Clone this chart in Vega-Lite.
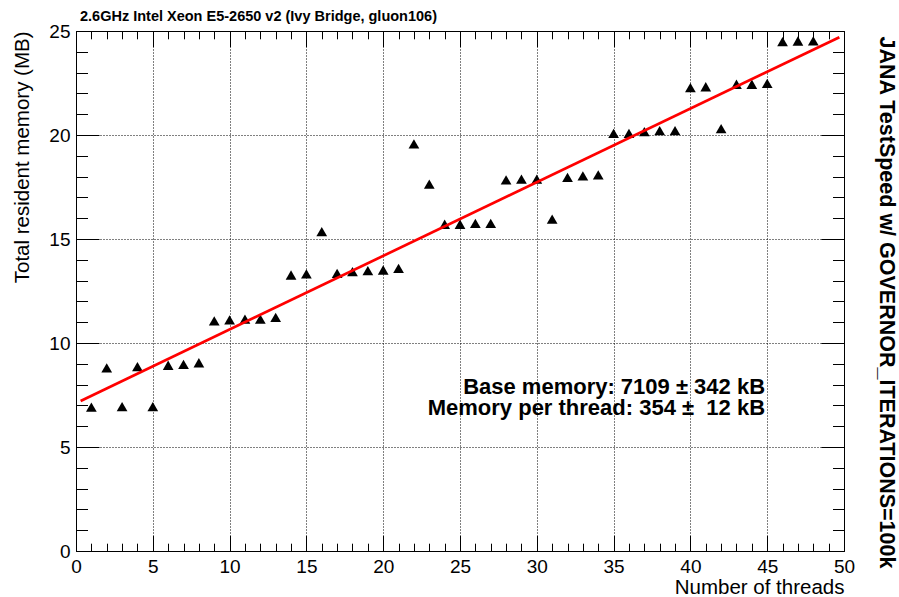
{
  "$schema": "https://vega.github.io/schema/vega-lite/v6.json",
  "width": 768,
  "height": 520,
  "autosize": "none",
  "padding": {"left": 76, "top": 31, "right": 55, "bottom": 46},
  "background": "white",
  "title": {
    "text": "2.6GHz Intel Xeon E5-2650 v2 (Ivy Bridge, gluon106)",
    "anchor": "start",
    "frame": "group",
    "font": "Liberation Sans",
    "fontSize": 14.5,
    "fontWeight": "bold",
    "color": "black",
    "baseline": "bottom",
    "offset": -16,
    "dx": 4
  },
  "config": {
    "view": {"stroke": null},
    "font": "Liberation Sans",
    "axis": {
      "labelFont": "Liberation Sans",
      "titleFont": "Liberation Sans",
      "labelColor": "black",
      "titleColor": "black",
      "tickColor": "black",
      "domainColor": "black",
      "tickWidth": 1,
      "domainWidth": 1,
      "gridColor": "black",
      "gridDash": [1, 2],
      "gridWidth": 1,
      "gridOpacity": 1
    }
  },
  "layer": [
    {
      "data": {
        "values": [
          {"threads": 1, "mem": 6.92}, {"threads": 2, "mem": 8.80}, {"threads": 3, "mem": 6.94},
          {"threads": 4, "mem": 8.86}, {"threads": 5, "mem": 6.94}, {"threads": 6, "mem": 8.93},
          {"threads": 7, "mem": 8.97}, {"threads": 8, "mem": 9.05}, {"threads": 9, "mem": 11.06},
          {"threads": 10, "mem": 11.11}, {"threads": 11, "mem": 11.15}, {"threads": 12, "mem": 11.15},
          {"threads": 13, "mem": 11.23}, {"threads": 14, "mem": 13.27}, {"threads": 15, "mem": 13.32},
          {"threads": 16, "mem": 15.35}, {"threads": 17, "mem": 13.35}, {"threads": 18, "mem": 13.43},
          {"threads": 19, "mem": 13.48}, {"threads": 20, "mem": 13.51}, {"threads": 21, "mem": 13.59},
          {"threads": 22, "mem": 19.57}, {"threads": 23, "mem": 17.64}, {"threads": 24, "mem": 15.71},
          {"threads": 25, "mem": 15.71}, {"threads": 26, "mem": 15.75}, {"threads": 27, "mem": 15.75},
          {"threads": 28, "mem": 17.84}, {"threads": 29, "mem": 17.88}, {"threads": 30, "mem": 17.88},
          {"threads": 31, "mem": 15.96}, {"threads": 32, "mem": 17.96}, {"threads": 33, "mem": 18.03},
          {"threads": 34, "mem": 18.08}, {"threads": 35, "mem": 20.08}, {"threads": 36, "mem": 20.08},
          {"threads": 37, "mem": 20.16}, {"threads": 38, "mem": 20.21}, {"threads": 39, "mem": 20.21},
          {"threads": 40, "mem": 22.28}, {"threads": 41, "mem": 22.32}, {"threads": 42, "mem": 20.31},
          {"threads": 43, "mem": 22.44}, {"threads": 44, "mem": 22.44}, {"threads": 45, "mem": 22.48},
          {"threads": 46, "mem": 24.49}, {"threads": 47, "mem": 24.52}, {"threads": 48, "mem": 24.53}
        ]
      },
      "mark": {"type": "point", "shape": "triangle-up", "filled": true, "color": "black", "size": 115, "opacity": 1},
      "encoding": {
        "x": {
          "field": "threads", "type": "quantitative",
          "scale": {"domain": [0, 50], "nice": false, "zero": false},
          "axis": {
            "orient": "bottom", "title": "Number of threads", "titleAnchor": "end",
            "titleFontSize": 20.5, "titleFontWeight": "normal", "titlePadding": 1,
            "values": [0, 5, 10, 15, 20, 25, 30, 35, 40, 45, 50],
            "tickSize": -15.6, "labelFontSize": 19, "labelPadding": 21.6,
            "labelFlush": false, "labelOverlap": false,
            "grid": true, "domain": true
          }
        },
        "y": {
          "field": "mem", "type": "quantitative",
          "scale": {"domain": [0, 25], "nice": false, "zero": false},
          "axis": {
            "orient": "left", "title": "Total resident memory (MB)", "titleAnchor": "end",
            "titleFontSize": 20.5, "titleFontWeight": "normal", "titlePadding": 16,
            "values": [0, 5, 10, 15, 20, 25],
            "tickSize": -23, "labelFontSize": 19, "labelPadding": 29,
            "labelFlush": false, "labelOverlap": false,
            "grid": true, "domain": true
          }
        }
      }
    },
    {
      "data": {"values": [{"threads": 0.3, "fit": 7.215}, {"threads": 49.7, "fit": 24.703}]},
      "mark": {"type": "line", "color": "#ff0000", "strokeWidth": 2.7},
      "encoding": {
        "x": {
          "field": "threads", "type": "quantitative",
          "axis": {
            "orient": "bottom", "title": null, "labels": false, "grid": false, "domain": false,
            "values": [1,2,3,4,6,7,8,9,11,12,13,14,16,17,18,19,21,22,23,24,26,27,28,29,31,32,33,34,36,37,38,39,41,42,43,44,46,47,48,49],
            "tickSize": -7.8
          }
        },
        "y": {
          "field": "fit", "type": "quantitative",
          "axis": {
            "orient": "left", "title": null, "labels": false, "grid": false, "domain": false,
            "values": [1,2,3,4,6,7,8,9,11,12,13,14,16,17,18,19,21,22,23,24],
            "tickSize": -11.5
          }
        }
      }
    },
    {
      "data": {"values": [{"threads": 44.86, "mem": 7.55, "label": "Base memory: 7109 ± 342 kB"}]},
      "mark": {"type": "text", "align": "right", "baseline": "alphabetic", "fontSize": 22, "fontWeight": "bold", "color": "black", "font": "Liberation Sans"},
      "encoding": {
        "x": {
          "field": "threads", "type": "quantitative",
          "axis": {
            "orient": "top", "title": null, "labels": false, "grid": false, "domain": true,
            "values": [0, 5, 10, 15, 20, 25, 30, 35, 40, 45, 50],
            "tickSize": -15.6
          }
        },
        "y": {
          "field": "mem", "type": "quantitative",
          "axis": {
            "orient": "right", "title": "JANA TestSpeed w/ GOVERNOR_ITERATIONS=100k",
            "titleAngle": 90, "titleFontSize": 21.5, "titleFontWeight": "bold", "titlePadding": 30,
            "titleY": 271,
            "labels": false, "grid": false, "domain": true,
            "values": [0, 5, 10, 15, 20, 25],
            "tickSize": -23
          }
        },
        "text": {"field": "label", "type": "nominal"}
      }
    },
    {
      "data": {"values": [{"threads": 44.86, "mem": 6.54, "label": "Memory per thread: 354 ± \u00a012 kB"}]},
      "mark": {"type": "text", "align": "right", "baseline": "alphabetic", "fontSize": 22, "fontWeight": "bold", "color": "black", "font": "Liberation Sans"},
      "encoding": {
        "x": {
          "field": "threads", "type": "quantitative",
          "axis": {
            "orient": "top", "title": null, "labels": false, "grid": false, "domain": false,
            "values": [1,2,3,4,6,7,8,9,11,12,13,14,16,17,18,19,21,22,23,24,26,27,28,29,31,32,33,34,36,37,38,39,41,42,43,44,46,47,48,49],
            "tickSize": -7.8
          }
        },
        "y": {
          "field": "mem", "type": "quantitative",
          "axis": {
            "orient": "right", "title": null, "labels": false, "grid": false, "domain": false,
            "values": [1,2,3,4,6,7,8,9,11,12,13,14,16,17,18,19,21,22,23,24],
            "tickSize": -11.5
          }
        },
        "text": {"field": "label", "type": "nominal"}
      }
    }
  ],
  "resolve": {"axis": {"x": "independent", "y": "independent"}}
}
